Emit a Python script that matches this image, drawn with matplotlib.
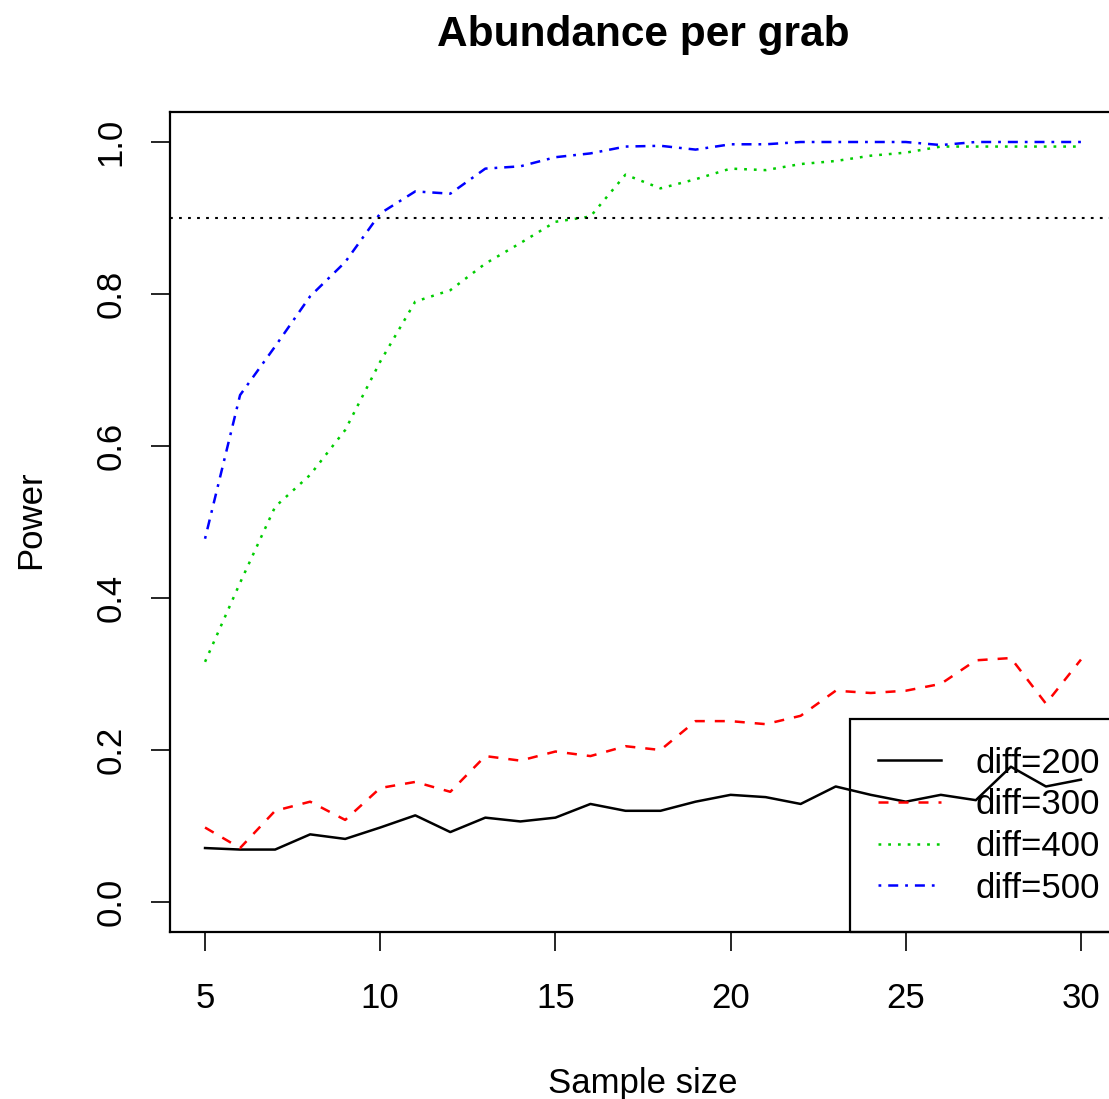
import matplotlib
matplotlib.use("Agg")
import matplotlib.pyplot as plt

plt.rcParams['font.family'] = ['Liberation Sans', 'DejaVu Sans']
plt.rcParams['lines.scale_dashes'] = False

# data
sample_size = [5, 6, 7, 8, 9, 10, 11, 12, 13, 14, 15, 16, 17, 18, 19, 20,
               21, 22, 23, 24, 25, 26, 27, 28, 29, 30]
diff200 = [0.071, 0.069, 0.069, 0.089, 0.083, 0.098, 0.114, 0.092, 0.111, 0.106,
           0.111, 0.129, 0.120, 0.120, 0.132, 0.141, 0.138, 0.129, 0.152, 0.141,
           0.132, 0.141, 0.134, 0.178, 0.152, 0.161]
diff300 = [0.098, 0.071, 0.120, 0.132, 0.108, 0.150, 0.158, 0.145, 0.192, 0.186,
           0.198, 0.192, 0.205, 0.200, 0.238, 0.238, 0.234, 0.245, 0.278, 0.275,
           0.278, 0.287, 0.318, 0.321, 0.261, 0.319]
diff400 = [0.316, 0.420, 0.520, 0.562, 0.621, 0.711, 0.790, 0.805, 0.840, 0.867,
           0.895, 0.902, 0.957, 0.939, 0.951, 0.965, 0.963, 0.971, 0.975, 0.982,
           0.986, 0.994, 0.994, 0.994, 0.994, 0.994]
diff500 = [0.478, 0.667, 0.731, 0.797, 0.842, 0.906, 0.935, 0.932, 0.965, 0.968,
           0.980, 0.985, 0.994, 0.995, 0.990, 0.997, 0.997, 1.000, 1.000, 1.000,
           1.000, 0.996, 1.000, 1.000, 1.000, 1.000]
target_power = 0.9
labels = ['diff=200', 'diff=300', 'diff=400', 'diff=500']
xticks = [5, 10, 15, 20, 25, 30]
yticks = [0.0, 0.2, 0.4, 0.6, 0.8, 1.0]

W, H = 1109, 1099
fig = plt.figure(figsize=(W / 100, H / 100), dpi=100)
# plot region: right side runs past the canvas like the original
ax = fig.add_axes([170 / W, (H - 932.4) / H, 946 / W, (932.4 - 111.6) / H])

lw = 1.8
ax.plot(sample_size, diff200, color='black', lw=lw, label=labels[0])
ax.plot(sample_size, diff300, color='#ff0000', lw=lw, dashes=(7.2, 7.2), label=labels[1])
ax.plot(sample_size, diff400, color='#00cd00', lw=lw, dashes=(2.0, 5.0), label=labels[2])
ax.plot(sample_size, diff500, color='#0000ff', lw=lw, dashes=(2.0, 5.0, 7.2, 5.0), label=labels[3])
ax.axhline(target_power, color='black', lw=1.5, dashes=(2.0, 4.5))

ax.set_xlim(4, 31)
ax.set_ylim(-0.04, 1.04)
ax.set_xticks(xticks)
ax.set_xticklabels([str(t) for t in xticks])
ax.set_yticks(yticks)
ax.set_yticklabels(['%.1f' % t for t in yticks])
ax.tick_params(axis='both', direction='out', length=13.7, width=1.2,
               labelsize=25, colors='black')
ax.tick_params(axis='x', pad=22)
ax.tick_params(axis='y', pad=17, labelrotation=90)
for lab in ax.get_yticklabels():
    lab.set_verticalalignment('center')
for s in ax.spines.values():
    s.set_linewidth(1.6)

leg = ax.legend(loc='lower left', bbox_to_anchor=(0.7188, 0.0, 0.2812, 0.3),
                mode='expand', borderaxespad=0, fontsize=25, frameon=True,
                fancybox=False, facecolor='none', edgecolor='black',
                handlelength=1.82, handletextpad=1.0, borderpad=0.8,
                labelspacing=0.25)
leg.get_frame().set_linewidth(1.6)
leg.get_frame().set_alpha(None)

fig.text(643 / W, 1 - 46 / H, 'Abundance per grab', ha='center', va='baseline',
         fontsize=30.5, fontweight='bold')
fig.text(643 / W, 1 - 1093 / H, 'Sample size', ha='center', va='baseline', fontsize=25)
fig.text(40 / W, 1 - 520 / H, 'Power', ha='center', va='baseline', fontsize=25,
         rotation=90, rotation_mode='anchor')

fig.savefig('out.png', dpi=100)
